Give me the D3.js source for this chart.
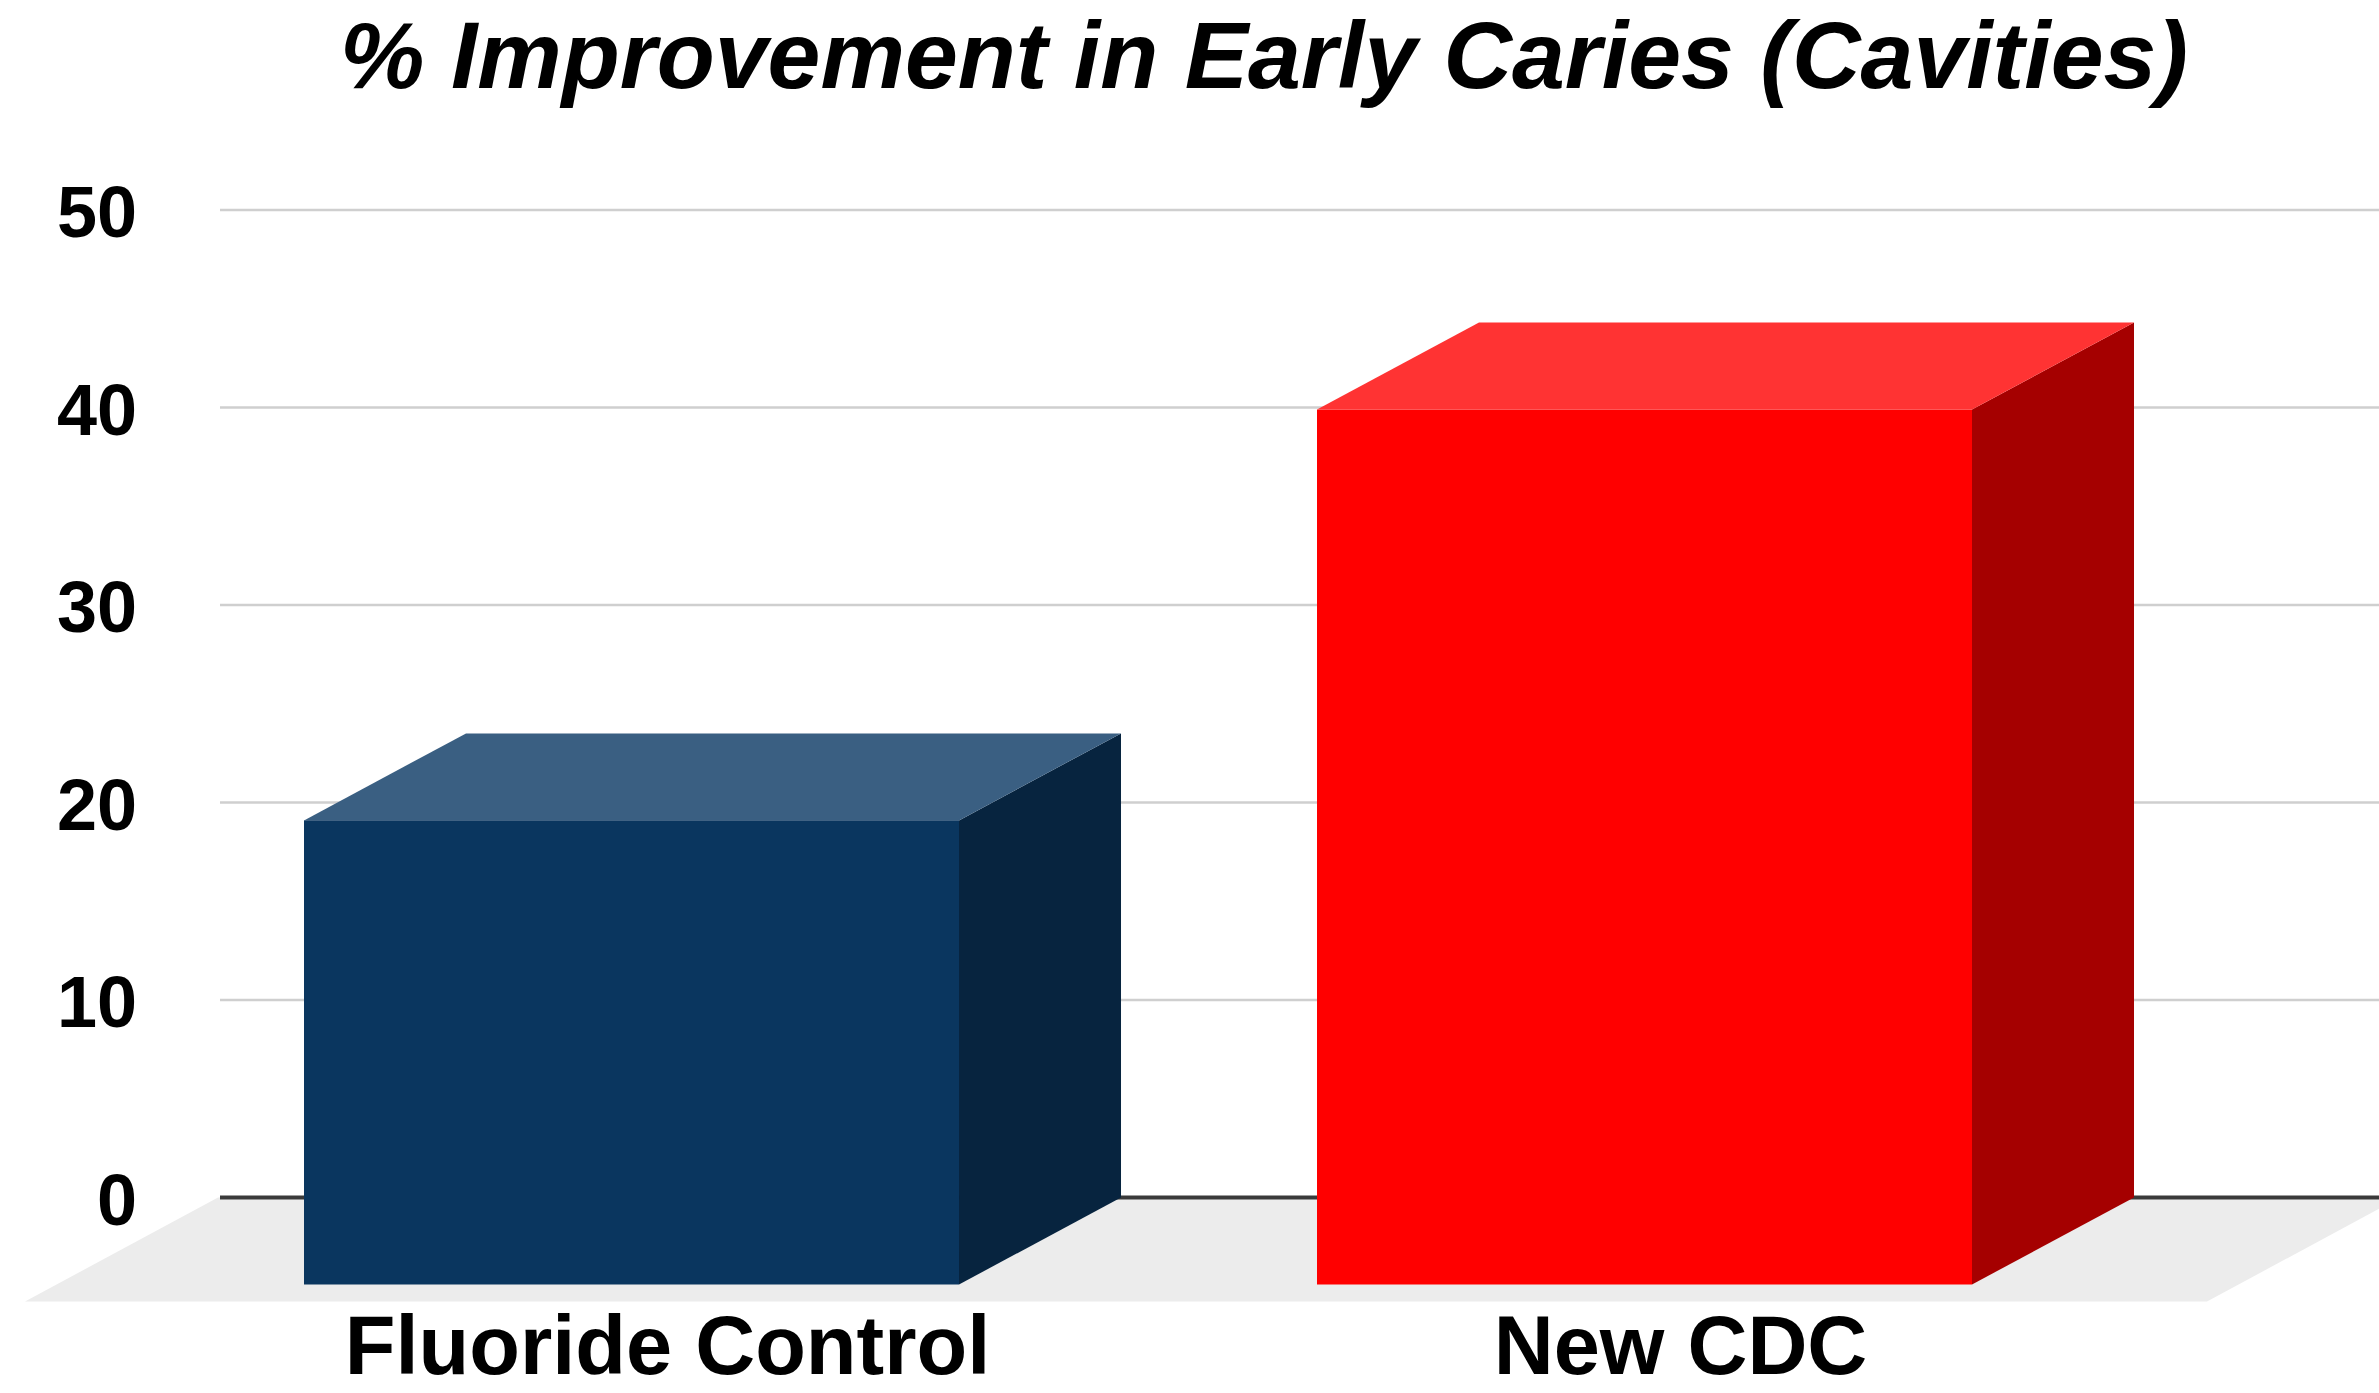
<!DOCTYPE html>
<html>
<head>
<meta charset="utf-8">
<script src="https://cdn.jsdelivr.net/npm/d3@7"></script>
<style>
  html, body { margin: 0; padding: 0; background: #ffffff; }
  svg { display: block; }
  text { font-family: "Liberation Sans", Arial, sans-serif; }
</style>
</head>
<body>
<svg id="chart" width="2379" height="1393"></svg>
<script>
// Chart data
const categories = ["Fluoride Control", "New CDC"];
const values = [23.5, 44.3];
const tickValues = [0, 10, 20, 30, 40, 50];
const titleText = "% Improvement in Early Caries (Cavities)";

// Face colours per bar: front, top, side
const frontColors = ["#0a365f", "#ff0000"];
const topColors = ["#3a5f82", "#ff3333"];
const sideColors = ["#07243f", "#a50000"];

const W = 2379, H = 1393;
const svg = d3.select("#chart");

// Back wall geometry
const wallLeft = 218, wallRight = 2400;
const yScale = d3.scaleLinear().domain([0, 50]).range([1197.5, 210]);

// Oblique depth offsets (toward the back wall)
const barDepth = { dx: 162, dy: -87 };
const floorDepth = { dx: 193, dy: -104 };

const xScale = d3.scaleBand()
  .domain(categories)
  .range([wallLeft, wallRight])
  .paddingInner(0.3534)
  .paddingOuter(0.2537)
  .align(0.4825);

// Floor
const y0 = yScale(0);
svg.append("polygon")
  .attr("points", [
    [wallLeft, y0],
    [wallRight, y0],
    [wallRight - floorDepth.dx, y0 - floorDepth.dy],
    [wallLeft - floorDepth.dx, y0 - floorDepth.dy]
  ].map(p => p.join(",")).join(" "))
  .attr("fill", "#ececec");

// Gridlines on the back wall
svg.append("g")
  .selectAll("line")
  .data(tickValues.filter(d => d !== 0))
  .join("line")
  .attr("x1", wallLeft + 2)
  .attr("x2", W)
  .attr("y1", d => yScale(d))
  .attr("y2", d => yScale(d))
  .attr("stroke", "#cfcfcf")
  .attr("stroke-width", 2.5);

// Baseline
svg.append("line")
  .attr("x1", wallLeft + 2)
  .attr("x2", W)
  .attr("y1", y0)
  .attr("y2", y0)
  .attr("stroke", "#3a3a3a")
  .attr("stroke-width", 4);

// Y axis labels
const yAxis = d3.axisLeft(yScale)
  .tickValues(tickValues)
  .tickSize(0)
  .tickPadding(0)
  .tickFormat(d3.format("d"));

const yAxisG = svg.append("g")
  .attr("transform", "translate(137,0)")
  .call(yAxis);
yAxisG.select(".domain").remove();
yAxisG.selectAll("text")
  .attr("font-family", "'Liberation Sans', Arial, sans-serif")
  .attr("font-size", 72)
  .attr("font-weight", "bold")
  .attr("fill", "#000")
  .attr("dy", "0.37em");

// 3D bars
const bars = svg.append("g")
  .selectAll("g")
  .data(categories.map((c, i) => ({ c, v: values[i], i })))
  .join("g");

const pts = arr => arr.map(p => p.join(",")).join(" ");

bars.each(function (d) {
  const g = d3.select(this);
  const bx0 = xScale(d.c);
  const bx1 = bx0 + xScale.bandwidth();
  const byTop = yScale(d.v);
  const byBot = yScale(0);
  const fx0 = bx0 - barDepth.dx, fx1 = bx1 - barDepth.dx;
  const fyTop = byTop - barDepth.dy, fyBot = byBot - barDepth.dy;

  // side face
  g.append("polygon")
    .attr("points", pts([[fx1, fyTop], [bx1, byTop], [bx1, byBot], [fx1, fyBot]]))
    .attr("fill", sideColors[d.i]);
  // top face
  g.append("polygon")
    .attr("points", pts([[fx0, fyTop], [bx0, byTop], [bx1, byTop], [fx1, fyTop]]))
    .attr("fill", topColors[d.i]);
  // front face
  g.append("rect")
    .attr("x", fx0)
    .attr("y", fyTop)
    .attr("width", fx1 - fx0)
    .attr("height", fyBot - fyTop)
    .attr("fill", frontColors[d.i]);
});

// Category labels
svg.append("g")
  .selectAll("text")
  .data(categories)
  .join("text")
  .attr("x", d => xScale(d) + xScale.bandwidth() / 2 - barDepth.dx + 36)
  .attr("y", 1374)
  .attr("text-anchor", "middle")
  .attr("font-size", 83)
  .attr("font-weight", "bold")
  .attr("fill", "#000")
  .text(d => d);

// Title
svg.append("text")
  .attr("x", 1264)
  .attr("y", 88)
  .attr("text-anchor", "middle")
  .attr("font-size", 95)
  .attr("font-weight", "bold")
  .attr("font-style", "italic")
  .attr("fill", "#000")
  .text(titleText);
</script>
</body>
</html>
